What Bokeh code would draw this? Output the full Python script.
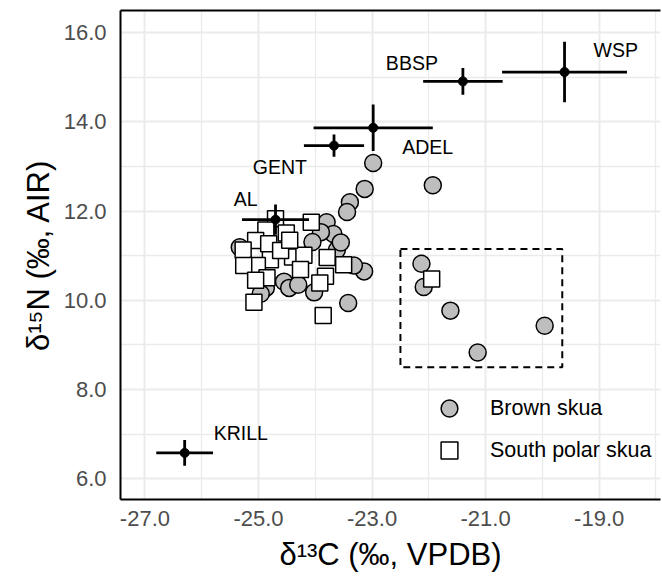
from bokeh.plotting import figure
from bokeh.models import (FixedTicker, PrintfTickFormatter, LinearAxis, Legend,
                          LegendItem, ColumnDataSource, Range1d)
from bokeh.core.properties import value
from bokeh.embed import file_html
from bokeh.resources import INLINE

FONT = "Liberation Sans"

# ---------------- data ----------------
x_ticks = [-27, -25, -23, -21, -19]
x_minor = [-28, -26, -24, -22, -20, -18]
y_ticks = [6, 8, 10, 12, 14, 16]
y_minor = [5, 7, 9, 11, 13, 15, 17]

# prey / source means and SDs (d13C, d15N)
src_names = ["KRILL", "AL", "GENT", "ADEL", "BBSP", "WSP"]
src_c = [-26.30, -24.70, -23.67, -22.98, -21.40, -19.61]
src_c_sd = [0.50, 0.59, 0.53, 1.05, 0.70, 1.10]
src_n = [6.58, 11.81, 13.47, 13.87, 14.91, 15.12]
src_n_sd = [0.29, 0.34, 0.25, 0.52, 0.30, 0.68]

# Brown skua
brown_c = [-22.98, -23.13, -21.93, -23.39, -23.44,
           -23.80, -23.68, -23.90, -23.62, -23.14, -23.42, -24.02, -24.55,
           -24.46, -24.87, -24.96, -25.33, -24.05, -23.32, -23.55, -24.30,
           -22.13, -22.09, -21.62, -21.14, -19.96]
brown_n = [13.08, 12.50, 12.58, 12.20, 11.98,
           11.75, 11.49, 11.53, 11.13, 10.65, 9.94, 10.18, 10.42,
           10.28, 10.28, 10.15, 11.19, 11.31, 10.78, 11.30, 10.35,
           10.82, 10.30, 9.77, 8.83, 9.43]

# South polar skua
spsk_c = [-24.70, -24.87, -24.51, -24.07, -25.05, -25.27, -24.82, -24.79,
          -25.02, -25.26, -24.40, -24.20, -23.79, -23.50, -24.26, -24.85,
          -25.05, -23.82, -23.92, -25.08, -23.86, -24.61, -24.45, -21.95]
spsk_n = [11.83, 11.58, 11.51, 11.75, 11.34, 11.13, 11.27, 10.91,
          10.78, 10.78, 10.97, 11.01, 10.96, 10.80, 10.69, 10.51,
          10.45, 10.54, 10.39, 9.96, 9.66, 11.12, 11.35, 10.48]

# highlighted region (d13C range, d15N range)
box_c = [-22.5, -19.65]
box_n = [8.5, 11.15]

# ---------------- styles ----------------
LABEL_STYLE = {  # dx, dy (px), align
    "KRILL": (29, -20, "left"),
    "AL": (-18, -21, "right"),
    "GENT": (-27, 21, "right"),
    "ADEL": (29, 19, "left"),
    "BBSP": (-25, -18, "right"),
    "WSP": (29, -22, "left"),
}

p = figure(width=662, height=583, output_backend="svg", toolbar_location=None,
           x_range=Range1d(-27.43, -17.92), y_range=Range1d(5.535, 16.50),
           min_border_left=120, min_border_right=2, min_border_top=10,
           min_border_bottom=84)
p.outline_line_color = None
p.background_fill_color = "white"
p.border_fill_color = "white"

# grid
for g, tk, mn in ((p.xgrid, x_ticks, x_minor), (p.ygrid, y_ticks, y_minor)):
    g.ticker = FixedTicker(ticks=tk, minor_ticks=mn)
    g.grid_line_color = "#EBEBEB"
    g.grid_line_width = 2
    g.minor_grid_line_color = "#EBEBEB"
    g.minor_grid_line_width = 1.3

# axes
p.xaxis.ticker = FixedTicker(ticks=x_ticks, minor_ticks=x_minor)
p.yaxis.ticker = FixedTicker(ticks=y_ticks, minor_ticks=y_minor)
for ax in (p.xaxis[0], p.yaxis[0]):
    ax.formatter = PrintfTickFormatter(format="%.1f")
    ax.major_tick_in = 0
    ax.major_tick_out = 0
    ax.minor_tick_in = 0
    ax.minor_tick_out = 0
    ax.axis_line_width = 2
    ax.axis_line_color = "black"
    ax.major_label_text_font = FONT
    ax.major_label_text_font_size = "22px"
    ax.major_label_text_color = "#4D4D4D"
    ax.axis_label_text_font = FONT
    ax.axis_label_text_font_size = "31px"
    ax.axis_label_text_font_style = "normal"
    ax.axis_label_text_color = "black"
p.xaxis.axis_label = "δ¹³C (‰, VPDB)"
p.yaxis.axis_label = "δ¹⁵N (‰, AIR)"
p.xaxis.major_label_standoff = 11
p.xaxis.axis_label_standoff = 8
p.yaxis.major_label_standoff = 14
p.yaxis.axis_label_standoff = 5

top_axis = LinearAxis(ticker=FixedTicker(ticks=[]), major_label_text_font_size="0px",
                      major_tick_in=0, major_tick_out=0, minor_tick_in=0,
                      minor_tick_out=0, major_label_standoff=0,
                      axis_line_width=2, axis_line_color="black")
p.add_layout(top_axis, "above")

# dashed region
p.quad(left=[box_c[0]], right=[box_c[1]], bottom=[box_n[0]], top=[box_n[1]],
       fill_alpha=0, line_color="black", line_width=2, line_dash="7 5")

# skua points
r_brown = p.scatter(brown_c, brown_n, marker="circle", size=17,
                    fill_color="#BEBEBE", line_color="black", line_width=1.5)
r_spsk = p.scatter(spsk_c, spsk_n, marker="square", size=16,
                   fill_color="white", line_color="black", line_width=1.5)

# sources with error bars
src = ColumnDataSource(dict(
    name=src_names, c=src_c, n=src_n,
    c0=[c - s for c, s in zip(src_c, src_c_sd)],
    c1=[c + s for c, s in zip(src_c, src_c_sd)],
    n0=[n - s for n, s in zip(src_n, src_n_sd)],
    n1=[n + s for n, s in zip(src_n, src_n_sd)],
    dx=[LABEL_STYLE[k][0] for k in src_names],
    dy=[LABEL_STYLE[k][1] for k in src_names],
    align=[LABEL_STYLE[k][2] for k in src_names],
))
p.segment(x0="c0", x1="c1", y0="n", y1="n", source=src, line_color="black", line_width=2.8)
p.segment(x0="c", x1="c", y0="n0", y1="n1", source=src, line_color="black", line_width=2.8)
p.scatter("c", "n", source=src, marker="circle", size=9, fill_color="black", line_color="black")
p.text("c", "n", text="name", source=src, x_offset="dx", y_offset="dy",
       text_align="align", text_baseline="middle", text_font=value(FONT),
       text_font_size="19.5px", text_color="black")

legend = Legend(items=[LegendItem(label="Brown skua", renderers=[r_brown]),
                       LegendItem(label="South polar skua", renderers=[r_spsk])],
                location=(298, 18), glyph_width=42, glyph_height=42, spacing=-5,
                label_standoff=20, padding=10, border_line_alpha=0,
                background_fill_alpha=0, label_text_font=FONT,
                label_text_font_size="21.5px", label_text_color="black")
p.add_layout(legend)

open("out.html", "w").write(file_html(p, INLINE))
